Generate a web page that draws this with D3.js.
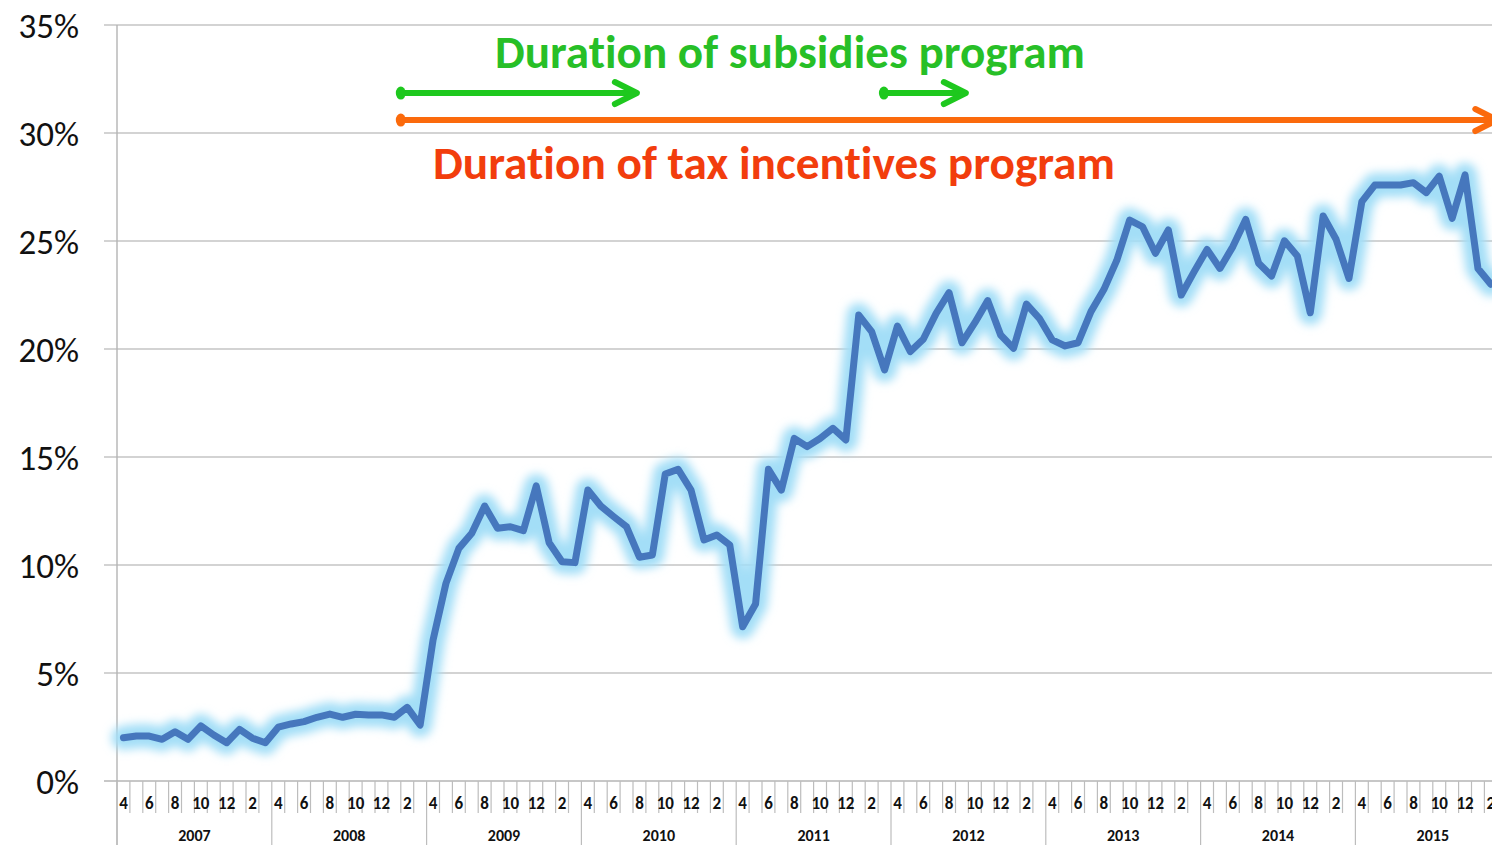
<!DOCTYPE html>
<html>
<head>
<meta charset="utf-8">
<script src="https://cdn.jsdelivr.net/npm/d3@7"></script>
<style>
  html, body { margin: 0; padding: 0; background: #fff; overflow: hidden; }
  svg { display: block; }
  text { font-variant-ligatures: none; font-feature-settings: "liga" 0; }
</style>
</head>
<body>
<svg id="chart" width="1492" height="845"></svg>
<script>
// ---------- DATA ----------
const fiscalYears = ["2007","2008","2009","2010","2011","2012","2013","2014","2015"];
const monthLabels = ["4","","6","","8","","10","","12","","2",""];
const yTicks = [0, 5, 10, 15, 20, 25, 30, 35];
// monthly share (%) starting April 2007
const shareValues = [
  2.0, 2.08, 2.08, 1.93, 2.28, 1.93, 2.55, 2.13, 1.77, 2.39, 1.98, 1.77,
  2.49, 2.64, 2.75, 2.95, 3.10, 2.95, 3.09, 3.06, 3.06, 2.95, 3.41, 2.59,
  6.53, 9.15, 10.77, 11.47, 12.73, 11.70, 11.77, 11.59, 13.66, 11.03, 10.15, 10.11,
  13.47, 12.73, 12.24, 11.77, 10.36, 10.46, 14.21, 14.43, 13.47, 11.16, 11.39, 10.93,
  7.14, 8.19, 14.43, 13.47, 15.86, 15.48, 15.86, 16.33, 15.79, 21.57, 20.80, 19.03,
  21.06, 19.88, 20.45, 21.65, 22.61, 20.29, 21.22, 22.24, 20.65, 20.03, 22.08, 21.42,
  20.42, 20.14, 20.29, 21.73, 22.75, 24.1, 25.97, 25.66, 24.43, 25.51, 22.5, 23.58,
  24.61, 23.73, 24.74, 26.0, 23.97, 23.38, 25.01, 24.31, 21.68, 26.16, 25.08, 23.27,
  26.82, 27.59, 27.59, 27.59, 27.7, 27.24, 28.0, 26.05, 28.06, 23.73, 23.0
];
// program periods, in month-index units from April 2007
const subsidyPeriods = [[22.0, 40.3], [59.45, 65.8]];
const taxPeriods = [[22.0, 107.0]];
const subsidyLevel = 31.85, taxLevel = 30.6;
const subsidyText = "Duration of subsidies program";
const taxText = "Duration of tax incentives program";

// ---------- LAYOUT ----------
const W = 1492, H = 845;
const svg = d3.select("#chart");
const nMonths = fiscalYears.length * 12;
const x = d3.scaleLinear().domain([0, nMonths]).range([117, 117 + nMonths * 12.9]);
const y = d3.scaleLinear().domain([0, 35]).range([781, 25]);
const FONT = "Carlito, Calibri, Lato, 'Open Sans', sans-serif";

// gridlines
svg.append("g").selectAll("line").data(yTicks).join("line")
  .attr("x1", 104).attr("x2", W)
  .attr("y1", d => y(d)).attr("y2", d => y(d))
  .attr("stroke", d => d === 0 ? "#b4b4b4" : "#c4c4c4").attr("stroke-width", 1.4);

// y axis line
svg.append("line").attr("x1", 117).attr("x2", 117).attr("y1", y(35)).attr("y2", H)
  .attr("stroke", "#b4b4b4").attr("stroke-width", 1.4);

// y labels
svg.append("g").selectAll("text").data(yTicks).join("text")
  .attr("x", 79).attr("y", d => y(d)).attr("dy", "0.36em")
  .attr("text-anchor", "end")
  .style("font-family", FONT).style("font-size", "35px").attr("fill", "#111")
  .text(d => d + "%");

// month ticks
const monthIdx = d3.range(nMonths + 1);
svg.append("g").selectAll("line").data(monthIdx).join("line")
  .attr("x1", d => x(d)).attr("x2", d => x(d))
  .attr("y1", 781).attr("y2", d => d % 12 === 0 ? H : 813)
  .attr("stroke", "#bdbdbd").attr("stroke-width", 1.2);

// month labels
const monthData = d3.range(nMonths).map(i => ({ i, label: monthLabels[i % 12] })).filter(d => d.label);
svg.append("g").selectAll("text").data(monthData).join("text")
  .attr("x", d => x(d.i + 0.5)).attr("y", 809)
  .attr("text-anchor", "middle")
  .style("font-family", FONT).style("font-size", "17px").style("font-weight", "bold").attr("fill", "#111")
  .text(d => d.label);

// year labels
svg.append("g").selectAll("text").data(fiscalYears).join("text")
  .attr("x", (d, k) => x(k * 12 + 6)).attr("y", 841)
  .attr("text-anchor", "middle")
  .style("font-family", FONT).style("font-size", "16px").style("font-weight", "bold").attr("fill", "#111")
  .text(d => d);

// ---------- LINE with glow ----------
const defs = svg.append("defs");
const f = defs.append("filter").attr("id", "glow").attr("x", "-10%").attr("y", "-10%").attr("width", "120%").attr("height", "120%");
f.append("feGaussianBlur").attr("stdDeviation", 5);

const lineGen = d3.line().x((d, i) => x(i + 0.5)).y(d => y(d));
svg.append("path").datum(shareValues).attr("d", lineGen)
  .attr("fill", "none").attr("stroke", "#a3def7").attr("stroke-width", 24)
  .attr("stroke-linejoin", "round").attr("stroke-linecap", "round").attr("filter", "url(#glow)");
svg.append("path").datum(shareValues).attr("d", lineGen)
  .attr("fill", "none").attr("stroke", "#4677bd").attr("stroke-width", 7)
  .attr("stroke-linejoin", "round").attr("stroke-linecap", "round");

// ---------- ANNOTATIONS ----------
function arrow(p, level, color, width) {
  const g = svg.append("g");
  const x0 = x(p[0]), x1 = x(p[1]), yy = y(level);
  g.append("line").attr("x1", x0).attr("x2", x1 - 2).attr("y1", yy).attr("y2", yy)
    .attr("stroke", color).attr("stroke-width", width);
  g.append("ellipse").attr("cx", x0).attr("cy", yy).attr("rx", 5).attr("ry", 6.5).attr("fill", color);
  g.append("path").attr("d", `M${x1 - 22},${yy - 11} L${x1},${yy} L${x1 - 22},${yy + 11}`)
    .attr("fill", "none").attr("stroke", color).attr("stroke-width", width)
    .attr("stroke-linecap", "round").attr("stroke-linejoin", "round");
}
subsidyPeriods.forEach(p => arrow(p, subsidyLevel, "#1ec81e", 6));
taxPeriods.forEach(p => arrow(p, taxLevel, "#fb6a0c", 6));

function fitText(str, cx, baseline, targetW, color) {
  const t = svg.append("text").attr("x", cx).attr("y", baseline).attr("text-anchor", "middle")
    .style("font-family", FONT).style("font-weight", "bold").style("font-size", "40px")
    .attr("fill", color).text(str);
  const w = t.node().getComputedTextLength();
  t.style("font-size", (40 * targetW / w).toFixed(2) + "px");
}
fitText(subsidyText, 790, 68, 590, "#27bf27");
fitText(taxText, 774, 179, 682, "#f23d0d");
</script>
</body>
</html>
